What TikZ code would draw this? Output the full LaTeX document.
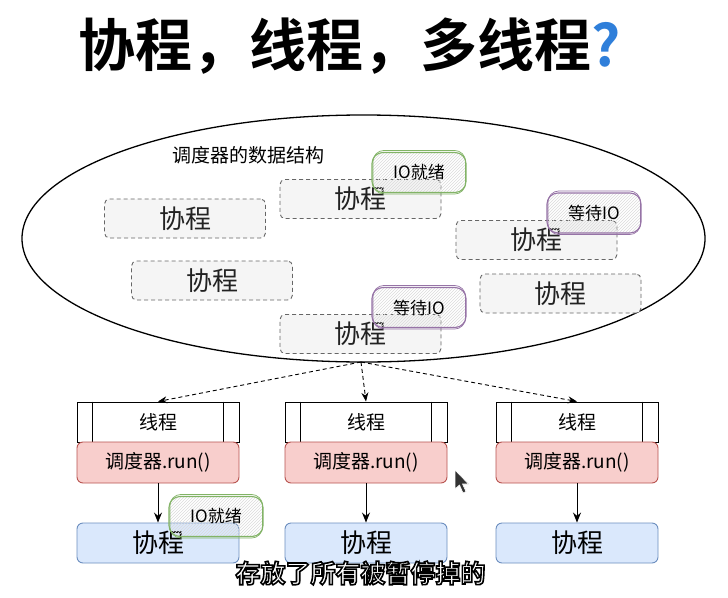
\documentclass[tikz,border=0pt]{standalone}
\usepackage{fontspec}
\setmainfont{Noto Sans CJK SC}[BoldFont={Noto Sans CJK SC Bold}]
\usetikzlibrary{shapes.geometric,arrows.meta,patterns}
\definecolor{grayfill}{HTML}{F5F5F5}
\definecolor{graydraw}{HTML}{666666}
\definecolor{txt}{HTML}{222222}
\definecolor{tagGreen}{HTML}{82B366}
\definecolor{tagPurple}{HTML}{9673A6}
\definecolor{redFill}{HTML}{F8CECC}
\definecolor{redDraw}{HTML}{B85450}
\definecolor{blueFill}{HTML}{DAE8FC}
\definecolor{blueDraw}{HTML}{6C8EBF}
\definecolor{qblue}{HTML}{2F7FDA}
\newcommand{\outlinedtext}[1]{\special{pdf:literal direct 2 Tr 0 0 0 RG 1.6 w}#1\special{pdf:literal direct 0 Tr}}
\tikzset{
  coro/.style={draw=graydraw, fill=grayfill, dashed, dash pattern=on 4pt off 3pt, line width=0.9pt,
    rounded corners=5pt, minimum width=161pt, minimum height=39pt, inner sep=0pt,
    font=\fontsize{26}{28}\selectfont, text=txt},
  tagbox/.style={line width=1.1pt, rounded corners=11pt, minimum width=94pt, minimum height=40pt,
    inner sep=0pt, pattern=north east lines, pattern color=gray!28,
    font=\fontsize{17}{19}\selectfont, text=black},
  thread/.style={draw=black, fill=white, line width=1pt, minimum width=162pt, minimum height=40pt,
    inner sep=0pt, font=\fontsize{19}{21}\selectfont},
  runbox/.style={draw=redDraw, fill=redFill, line width=0.9pt, rounded corners=6pt,
    minimum width=162pt, minimum height=41pt, inner sep=0pt, font=\fontsize{19}{21}\selectfont},
  cobox/.style={draw=blueDraw, fill=blueFill, line width=0.9pt, rounded corners=6pt,
    minimum width=162pt, minimum height=40pt, inner sep=0pt, font=\fontsize{26}{28}\selectfont},
  darrow/.style={dashed, dash pattern=on 4pt off 3pt, line width=0.9pt, -{Stealth[length=9pt,width=7pt]}},
  sarrow/.style={line width=1pt, -{Stealth[length=10pt,width=8pt]}},
  sketch/.style={line width=0.7pt, rounded corners=11pt},
}
\begin{document}
\begin{tikzpicture}[x=1pt,y=-1pt]
\useasboundingbox[fill=white] (0,0) rectangle (728,597);
% title
\node[font=\fontsize{57}{60}\selectfont\bfseries, inner sep=0pt] (title) at (350,46)
  {协程，线程，多线程\textcolor{qblue}{?}};
% ellipse
\node[ellipse, draw=black, line width=1.3pt, minimum width=683pt, minimum height=247pt, inner sep=0pt]
  (ell) at (363.5,238.5) {};
\node[font=\fontsize{19}{21}\selectfont, inner sep=0pt, anchor=west] (lbl) at (172,155) {调度器的数据结构};
% coroutine boxes
\node[coro] (c1) at (185,218.5) {协程};
\node[coro] (c2) at (360.5,199) {协程};
\node[coro] (c3) at (212,280.5) {协程};
\node[coro] (c4) at (536.5,240) {协程};
\node[coro] (c5) at (560.5,293.5) {协程};
\node[coro] (c6) at (360.5,334) {协程};
% tags
\node[tagbox, draw=tagGreen] (g1) at (419,172.5) {IO就绪};
\draw[sketch, tagGreen] ([shift={(1.5,1)}]g1.south west) rectangle ([shift={(-1,-1.5)}]g1.north east);
\node[tagbox, draw=tagPurple] (p1) at (594,213) {等待IO};
\draw[sketch, tagPurple] ([shift={(1.5,1)}]p1.south west) rectangle ([shift={(-1,-1.5)}]p1.north east);
\node[tagbox, draw=tagPurple] (p2) at (419,307.5) {等待IO};
\draw[sketch, tagPurple] ([shift={(1.5,1)}]p2.south west) rectangle ([shift={(-1,-1.5)}]p2.north east);
% threads
\foreach \n/\x in {1/158,2/366,3/577}{
  \node[thread] (t\n) at (\x,422) {线程};
  \draw[line width=1pt] ([xshift=16pt]t\n.north west) -- ([xshift=16pt]t\n.south west);
  \draw[line width=1pt] ([xshift=-16pt]t\n.north east) -- ([xshift=-16pt]t\n.south east);
  \node[runbox] (r\n) at (\x,462.5) {调度器.run()};
  \node[cobox] (b\n) at (\x,543) {协程};
  \draw[sarrow] (r\n.south) -- (b\n.north);
}
% dashed arrows
\coordinate (src) at (361,362);
\draw[darrow] (src) -- (t1.north);
\draw[darrow] (src) -- (t2.north);
\draw[darrow] (src) -- (t3.north);
% bottom tag
\node[tagbox, draw=tagGreen] (g2) at (216,516.5) {IO就绪};
\draw[sketch, tagGreen] ([shift={(1.5,1)}]g2.south west) rectangle ([shift={(-1,-1.5)}]g2.north east);
% cursor
\fill[black!80, draw=white, line width=0.6pt] (455,470) -- (455,489) -- (459.5,485) -- (463,493) -- (466,491.5) -- (462.5,484) -- (468.5,484) -- cycle;
% subtitle (outlined)
\node[font=\fontsize{25}{27}\selectfont\bfseries, text=white, inner sep=0pt] (sub) at (360.5,573) {\outlinedtext{存放了所有被暂停掉的}};
\end{tikzpicture}
\end{document}
